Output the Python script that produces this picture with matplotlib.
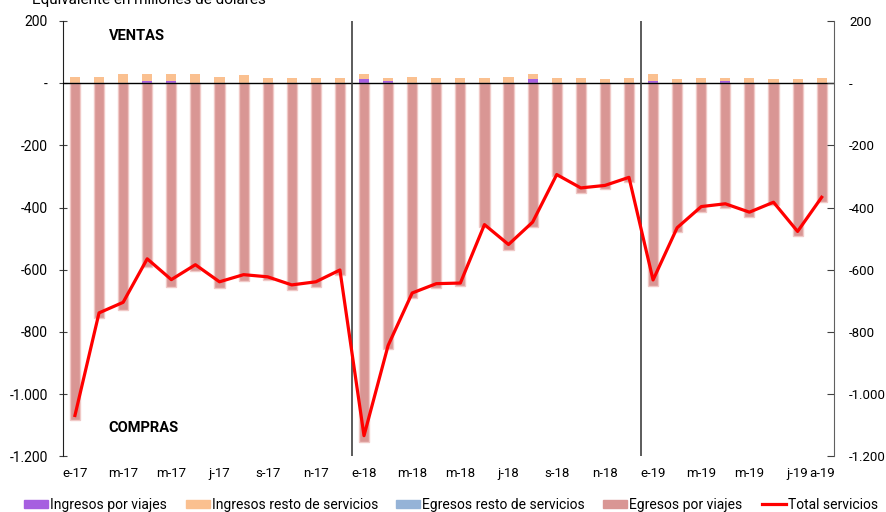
import matplotlib
matplotlib.use("Agg")
import matplotlib.pyplot as plt
import numpy as np
from matplotlib.ticker import FuncFormatter
from matplotlib.patches import Patch
from matplotlib.lines import Line2D

plt.rcParams['font.family'] = ['Roboto', 'DejaVu Sans']

# meses e-17 .. a-19
months = ['e-17', 'f-17', 'm-17', 'a-17', 'm-17', 'j-17', 'j-17', 'a-17', 's-17', 'o-17', 'n-17', 'd-17',
          'e-18', 'f-18', 'm-18', 'a-18', 'm-18', 'j-18', 'j-18', 'a-18', 's-18', 'o-18', 'n-18', 'd-18',
          'e-19', 'f-19', 'm-19', 'a-19', 'm-19', 'j-19', 'j-19', 'a-19']

ing_viajes = [2, 2, 2, 6, 6, 2, 2, 2, 2, 2, 2, 2,
              12, 6, 2, 2, 2, 2, 2, 12, 2, 2, 2, 2,
              6, 2, 2, 6, 2, 2, 2, 2]
ing_resto = [19, 19, 26, 22, 22, 26, 19, 23, 16, 16, 16, 16,
             16, 12, 19, 16, 16, 16, 19, 19, 16, 16, 13, 16,
             22, 13, 16, 12, 16, 13, 13, 16]
egr_resto = [0] * 32
egr_viajes = [-1085, -755, -729, -590, -656, -605, -659, -635, -632, -665, -656, -618,
              -1153, -855, -691, -659, -654, -462, -536, -463, -300, -354, -340, -319,
              -654, -480, -413, -402, -431, -392, -492, -383]
total = [-1069, -739, -705, -565, -632, -584, -639, -616, -623, -649, -639, -601,
         -1134, -844, -675, -645, -643, -455, -519, -447, -294, -337, -329, -303,
         -633, -465, -397, -388, -415, -383, -477, -367]

x = np.arange(len(months))
fig = plt.figure(figsize=(8.86, 5.12), dpi=100)
ax = fig.add_axes([0.071, 0.109, 0.870, 0.850])

w = 0.42
ing_viajes = np.array(ing_viajes)
ax.bar(x, ing_viajes, w, color='#A65FE0', zorder=2)
ax.bar(x, ing_resto, w, bottom=ing_viajes, color='#FAC090', zorder=2)
ax.bar(x, egr_resto, w, color='#95B3D7', zorder=2)
ax.bar(x, egr_viajes, w, bottom=egr_resto, color='#D99694', edgecolor='#F0C8C6', linewidth=1, zorder=2)
ax.plot(x, total, color='#FF0000', lw=2.3, zorder=4)

ax.axhline(0, color='black', lw=1, zorder=3)
for xv in [11.5, 23.5]:
    ax.axvline(xv, color='#404040', lw=1.2, zorder=3)

ax.set_xlim(-0.5, 31.5)
ax.set_ylim(-1200, 200)
yt = np.arange(-1200, 201, 200)

def fmt(v, pos):
    if v == 0:
        return '-'
    return '{:,.0f}'.format(v).replace(',', '.')

ax.set_yticks(yt)
ax.yaxis.set_major_formatter(FuncFormatter(fmt))
tick_pos = list(range(0, 31, 2)) + [31]
ax.set_xticks(tick_pos)
ax.set_xticklabels([months[i] for i in tick_pos])
ax.tick_params(axis='x', length=0, labelsize=9.5, pad=8)
ax.tick_params(axis='y', direction='inout', length=6, labelsize=10, pad=8, color='#404040')
for s in ['top', 'bottom', 'right']:
    ax.spines[s].set_visible(False)
ax.spines['left'].set_color('#202020')

ax2 = ax.twinx()
ax2.set_ylim(-1200, 200)
ax2.set_yticks(yt)
ax2.yaxis.set_major_formatter(FuncFormatter(fmt))
ax2.tick_params(axis='y', direction='in', length=5, labelsize=9.5, pad=11, color='#404040')
for s in ['top', 'bottom', 'left']:
    ax2.spines[s].set_visible(False)
ax2.spines['right'].set_color('#606060')

ax.text(1.4, 152, 'VENTAS', fontsize=10.5, fontweight='bold', va='center')
ax.text(1.4, -1110, 'COMPRAS', fontsize=10.5, fontweight='bold', va='center')
fig.text(0.036, 1.0, 'Equivalente en millones de dolares', fontsize=11, va='center')

handles = [Patch(color='#A65FE0'), Patch(color='#FAC090'), Patch(color='#95B3D7'),
           Patch(color='#D99694'), Line2D([], [], color='#FF0000', lw=2.3)]
labels = ['Ingresos por viajes', 'Ingresos resto de servicios', 'Egresos resto de servicios',
          'Egresos por viajes', 'Total servicios']
leg_x = [24, 186, 396, 603, 762]
for h, lab, lx in zip(handles, labels, leg_x):
    fig.legend([h], [lab], loc='center left', bbox_to_anchor=(lx / 886, 0.014),
               frameon=False, fontsize=10, handlelength=1.75, handleheight=0.6,
               handletextpad=0.15, borderpad=0, borderaxespad=0)

fig.savefig('out.png', dpi=100)
